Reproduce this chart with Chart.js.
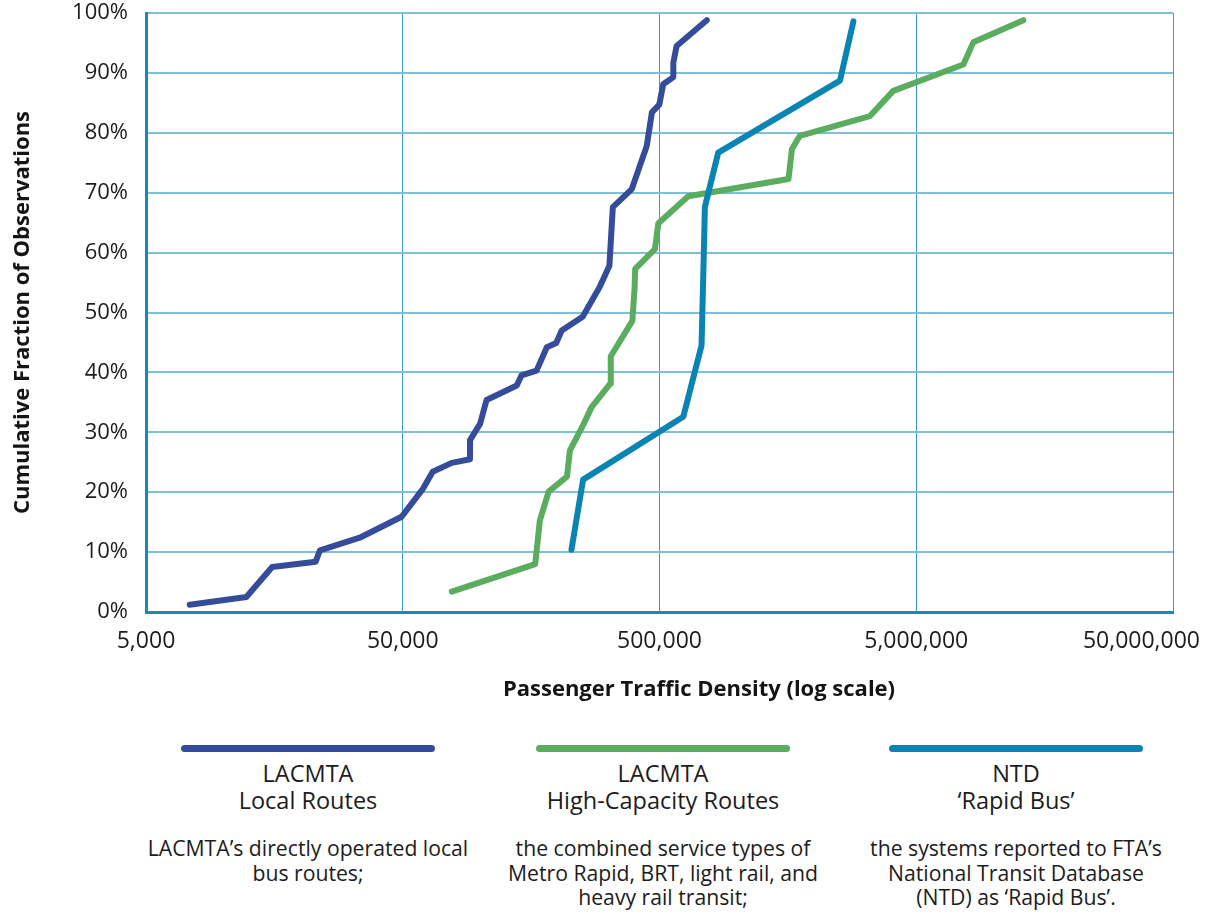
<!DOCTYPE html>
<html>
<head>
<meta charset="utf-8">
<script src="https://cdn.jsdelivr.net/npm/chart.js@4.4.1/dist/chart.umd.min.js"></script>
<style>
  html, body { margin: 0; padding: 0; background: #ffffff; }
  #page { position: relative; width: 1206px; height: 914px; overflow: hidden; font-family: 'Open Sans', sans-serif; color: #1c1c1c; }
  #chart { position: absolute; left: 0; top: 0; }
  #xtitle { position: absolute; left: 399px; width: 600px; top: 672px; text-align: center; font-weight: bold; font-size: 22px; line-height: 30px; color: #141414; }
  .key { position: absolute; top: 745px; width: 380px; text-align: center; }
  .key .swatch { margin: 0 auto; width: 254px; height: 7px; border-radius: 4px; }
  .key .name { margin-top: 8px; font-size: 23.5px; line-height: 27px; }
  .key .desc { margin-top: 22px; font-size: 21.2px; line-height: 24.5px; }
</style>
</head>
<body>
<div id="page">
  <canvas id="chart" width="1206" height="700"></canvas>
  <div id="xtitle">Passenger Traffic Density (log scale)</div>
  <div id="keys"></div>
</div>
<script>
// Passenger traffic density (x) against cumulative share of observations in % (y)
const localX = [7400, 12300, 15500, 22900, 23800, 34000, 49500, 60000, 65400, 77600, 91400, 91400, 100000, 106000, 139000, 145000, 166000, 182000, 198000, 208000, 251000, 292000, 319000, 329000, 390000, 446000, 467000, 499000, 517000, 566000, 566000, 583000, 764000];
const localY = [1.2, 2.5, 7.5, 8.4, 10.3, 12.4, 15.9, 20.6, 23.4, 24.9, 25.5, 28.7, 31.4, 35.4, 37.8, 39.5, 40.3, 44.2, 44.9, 47.0, 49.3, 54.2, 57.8, 67.6, 70.6, 77.8, 83.4, 84.7, 88.1, 89.3, 91.7, 94.5, 98.8];

const highCapX = [77600, 164000, 171000, 185000, 218000, 224000, 252000, 272000, 321000, 323000, 392000, 400000, 402000, 480000, 495000, 647000, 1590000, 1640000, 1760000, 3300000, 4070000, 7630000, 8340000, 13060000];
const highCapY = [3.4, 8.0, 15.3, 20.1, 22.6, 27.0, 31.2, 34.2, 38.1, 42.7, 48.6, 54.2, 57.3, 60.6, 64.9, 69.4, 72.3, 77.3, 79.5, 82.8, 87.0, 91.4, 95.1, 98.8];

const rapidBusX = [227000, 252000, 619000, 729000, 745000, 751000, 847000, 2523000, 2846000];
const rapidBusY = [10.4, 22.1, 32.6, 44.5, 60.9, 67.6, 76.7, 88.7, 98.6];

const xTickValues = [5000, 50000, 500000, 5000000, 50000000];
const yTickValues = [0, 10, 20, 30, 40, 50, 60, 70, 80, 90, 100];

const seriesNames = [['LACMTA', 'Local Routes'], ['LACMTA', 'High-Capacity Routes'], ['NTD', '\u2018Rapid Bus\u2019']];
const seriesNotes = [
  ['LACMTA\u2019s directly operated local', 'bus routes;'],
  ['the combined service types of', 'Metro Rapid, BRT, light rail, and', 'heavy rail transit;'],
  ['the systems reported to FTA\u2019s', 'National Transit Database', '(NTD) as \u2018Rapid Bus\u2019.']
];
const seriesColors = ['#354c9b', '#5aad5f', '#0a84b2'];

const FONT = "'Open Sans', sans-serif";
const toPoints = (xs, ys) => xs.map((x, i) => ({ x: x, y: ys[i] }));
const fmt = v => v.toLocaleString('en-US');

// x tick labels drawn at the scale's pixel positions, kept inside the canvas
const xLabels = {
  id: 'xLabels',
  afterDraw(chart) {
    const scale = chart.scales.x;
    const ctx = chart.ctx;
    ctx.save();
    ctx.font = '23px ' + FONT;
    ctx.fillStyle = '#1c1c1c';
    ctx.textBaseline = 'middle';
    ctx.textAlign = 'center';
    scale.ticks.forEach(t => {
      const text = fmt(t.value);
      const w = ctx.measureText(text).width;
      let px = scale.getPixelForValue(t.value);
      px = Math.min(px, chart.width - 6 - w / 2);
      px = Math.max(px, 6 + w / 2);
      ctx.fillText(text, px, chart.chartArea.bottom + 29);
    });
    ctx.restore();
  }
};

new Chart(document.getElementById('chart'), {
  type: 'line',
  data: {
    datasets: [
      { label: seriesNames[0].join(' '), data: toPoints(localX, localY), borderColor: seriesColors[0], order: 2 },
      { label: seriesNames[1].join(' '), data: toPoints(highCapX, highCapY), borderColor: seriesColors[1], order: 1 },
      { label: seriesNames[2].join(' '), data: toPoints(rapidBusX, rapidBusY), borderColor: seriesColors[2], order: 0 }
    ]
  },
  options: {
    responsive: false,
    animation: false,
    layout: { padding: { left: 0, top: 13, right: 33, bottom: 0 } },
    elements: {
      point: { radius: 0, hoverRadius: 0 },
      line: { tension: 0, borderWidth: 6, borderCapStyle: 'round', borderJoinStyle: 'round', fill: false }
    },
    plugins: { legend: { display: false }, tooltip: { enabled: false } },
    scales: {
      x: {
        type: 'logarithmic',
        min: 5000,
        max: 50000000,
        afterBuildTicks: s => { s.ticks = xTickValues.map(v => ({ value: v })); },
        afterFit: s => { s.height = 88; s.paddingLeft = 0; s.paddingRight = 0; },
        ticks: { display: false },
        grid: { color: '#3d9cc8', lineWidth: 1, drawTicks: false },
        border: { color: '#1789bf', width: 3 }
      },
      y: {
        min: 0,
        max: 100,
        afterBuildTicks: s => { s.ticks = yTickValues.map(v => ({ value: v })); },
        afterFit: s => { s.width = 146; s.paddingTop = 0; s.paddingBottom = 0; },
        ticks: { callback: v => v + '%', padding: 18, color: '#1c1c1c', font: { family: FONT, size: 22 } },
        grid: { color: '#7fc0d8', lineWidth: 2, drawTicks: false },
        border: { color: '#1789bf', width: 3 },
        title: {
          display: true,
          text: 'Cumulative Fraction of Observations',
          color: '#141414',
          font: { family: FONT, size: 22, weight: 'bold' },
          padding: { top: 10, bottom: 0 }
        }
      }
    }
  },
  plugins: [xLabels]
});

// series keys under the plot
const keyCenters = [308, 663, 1016];
const keys = document.getElementById('keys');
seriesNames.forEach((name, i) => {
  const el = document.createElement('div');
  el.className = 'key';
  el.style.left = (keyCenters[i] - 190) + 'px';
  el.innerHTML = '<div class="swatch" style="background:' + seriesColors[i] + '"></div>' +
    '<div class="name">' + name.join('<br>') + '</div>' +
    '<div class="desc">' + seriesNotes[i].join('<br>') + '</div>';
  keys.appendChild(el);
});
</script>
</body>
</html>
